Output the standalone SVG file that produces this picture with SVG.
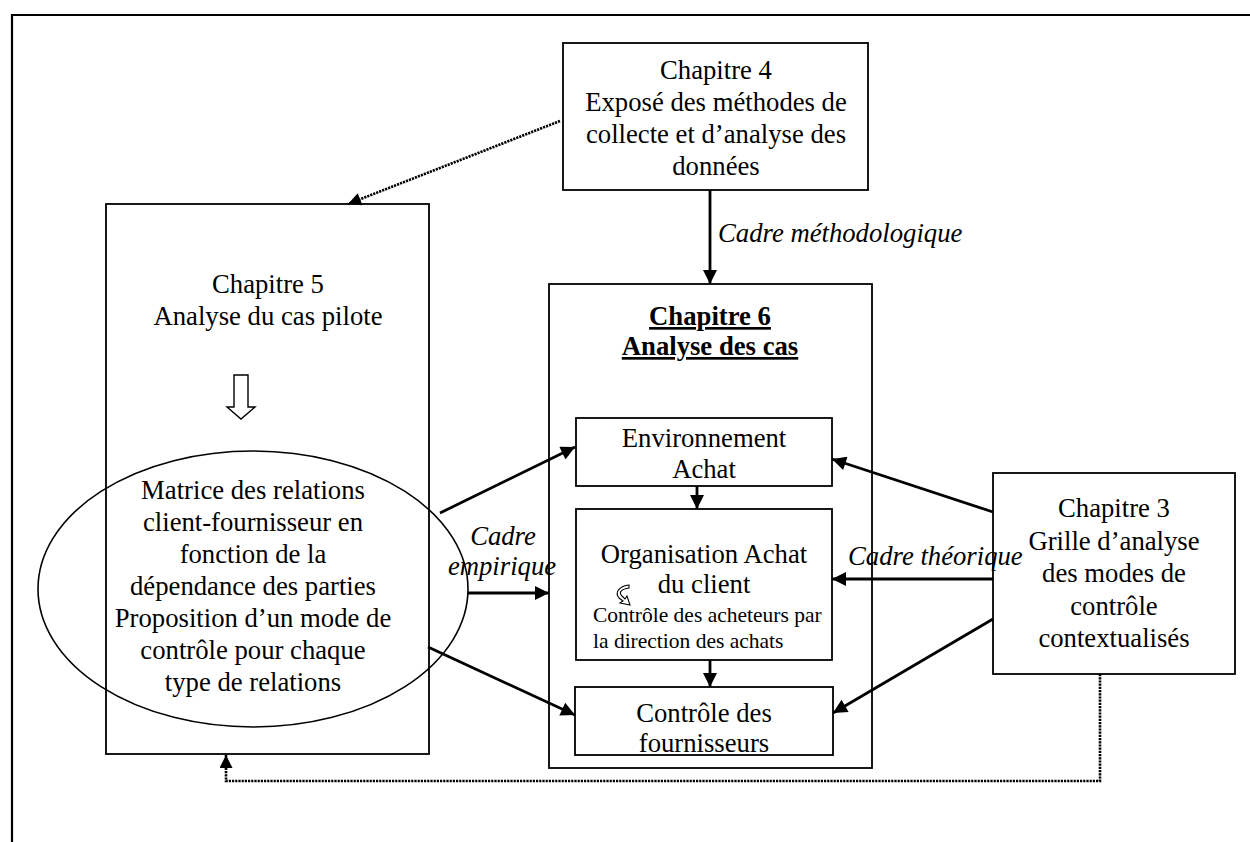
<svg xmlns="http://www.w3.org/2000/svg" width="1250" height="842" viewBox="0 0 1250 842">
<style>
.box{fill:#fff;stroke:#000;stroke-width:1.8}
.t{font-family:"Liberation Serif","Times New Roman",serif;font-size:26.7px;fill:#000;text-anchor:middle}
.s{font-family:"Liberation Serif","Times New Roman",serif;font-size:21.5px;fill:#000}
.i{font-style:italic}
.b{font-weight:bold;text-decoration:underline}
.c{fill:none;stroke:#000;stroke-width:2.8}
.d{fill:none;stroke:#000;stroke-width:2.6;stroke-dasharray:2.2 1}
</style>
<defs>
<marker id="ah" viewBox="0 0 10 10" refX="10" refY="5" markerUnits="userSpaceOnUse" markerWidth="17" markerHeight="14" orient="auto">
<path d="M0,0 L10,5 L0,10 z" fill="#000"/>
</marker>
<marker id="ahd" viewBox="0 0 10 10" refX="10" refY="5" markerUnits="userSpaceOnUse" markerWidth="16" markerHeight="13" orient="auto">
<path d="M0,0 L10,5 L0,10 z" fill="#000"/>
</marker>
</defs>
<rect width="1250" height="842" fill="#fff"/>
<g id="frame">
<path d="M12,842 V15 H1250" fill="none" stroke="#000" stroke-width="2.2"/>
</g>
<g id="ch4">
<rect class="box" x="563" y="43" width="305" height="147"/>
<text class="t" x="716" y="79">Chapitre 4</text>
<text class="t" x="716" y="111">Exposé des méthodes de</text>
<text class="t" x="716" y="143">collecte et d’analyse des</text>
<text class="t" x="716" y="175">données</text>
</g>
<g id="ch5">
<rect class="box" x="106" y="204" width="323" height="550"/>
<text class="t" x="268" y="293">Chapitre 5</text>
<text class="t" x="268" y="325">Analyse du cas pilote</text>
<path d="M234,375 H248 V407 H255 L241,419 L227,407 H234 Z" fill="#fff" stroke="#000" stroke-width="1.4"/>
</g>
<g id="matrice">
<ellipse cx="253" cy="589" rx="215" ry="138" fill="none" stroke="#000" stroke-width="1.6"/>
<text class="t" x="253" y="499">Matrice des relations</text>
<text class="t" x="253" y="531">client-fournisseur en</text>
<text class="t" x="253" y="563">fonction de la</text>
<text class="t" x="253" y="595">dépendance des parties</text>
<text class="t" x="253" y="627">Proposition d’un mode de</text>
<text class="t" x="253" y="659">contrôle pour chaque</text>
<text class="t" x="253" y="691">type de relations</text>
</g>
<g id="ch6">
<rect class="box" x="549" y="284" width="323" height="484"/>
<text class="t b" x="710" y="325">Chapitre 6</text>
<text class="t b" x="710" y="355">Analyse des cas</text>
</g>
<g id="env">
<rect class="box" x="576" y="418" width="256" height="68"/>
<text class="t" x="704" y="447">Environnement</text>
<text class="t" x="704" y="478">Achat</text>
</g>
<g id="org">
<rect class="box" x="576" y="509" width="256" height="151"/>
<text class="t" x="704" y="563">Organisation Achat</text>
<text class="t" x="704" y="593">du client</text>
<path d="M629,585 C620,586 614,592 619,598 L623,601 L620,603 L630,605 L627,596 L625,599 L622,596 C618,592 622,589 629,588 Z" fill="#fff" stroke="#000" stroke-width="1.1"/>
<text class="s" x="593" y="622">Contrôle des acheteurs par</text>
<text class="s" x="593" y="648">la direction des achats</text>
</g>
<g id="ctrl">
<rect class="box" x="575" y="687" width="258" height="68"/>
<text class="t" x="704" y="722">Contrôle des</text>
<text class="t" x="704" y="752">fournisseurs</text>
</g>
<g id="ch3">
<rect class="box" x="993" y="473" width="242" height="201"/>
<text class="t" x="1114" y="517">Chapitre 3</text>
<text class="t" x="1114" y="550">Grille d’analyse</text>
<text class="t" x="1114" y="582">des modes de</text>
<text class="t" x="1114" y="615">contrôle</text>
<text class="t" x="1114" y="647">contextualisés</text>
</g>
<g id="connectors">
<line class="c" x1="710" y1="190" x2="710" y2="284" marker-end="url(#ah)"/>
<line class="d" x1="560" y1="121" x2="348" y2="204" marker-end="url(#ahd)"/>
<line class="c" x1="440" y1="513" x2="575" y2="447" marker-end="url(#ah)"/>
<line class="c" x1="468" y1="593" x2="549" y2="593" marker-end="url(#ah)"/>
<line class="c" x1="428" y1="647" x2="575" y2="715" marker-end="url(#ah)"/>
<line class="c" x1="697" y1="486" x2="697" y2="509" marker-end="url(#ah)"/>
<line class="c" x1="710" y1="660" x2="710" y2="687" marker-end="url(#ah)"/>
<line class="c" x1="993" y1="512" x2="832" y2="459" marker-end="url(#ah)"/>
<line class="c" x1="993" y1="579" x2="832" y2="579" marker-end="url(#ah)"/>
<line class="c" x1="993" y1="619" x2="833" y2="713" marker-end="url(#ah)"/>
<path class="d" d="M1100,674 V781 H226 V755" marker-end="url(#ahd)"/>
<text class="t i" x="718" y="242" style="text-anchor:start">Cadre méthodologique</text>
<text class="t i" x="503" y="545">Cadre</text>
<text class="t i" x="502" y="575">empirique</text>
<text class="t i" x="848" y="565" style="text-anchor:start">Cadre théorique</text>
</g>
</svg>
